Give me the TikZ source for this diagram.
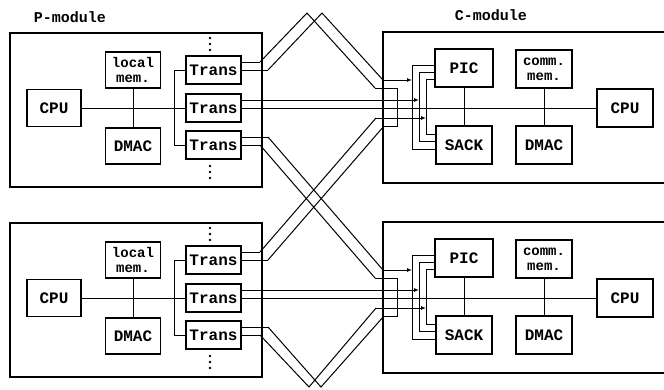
\documentclass[tikz,border=0pt]{standalone}
\usepackage{fontspec}
\setmainfont{Liberation Mono}
\usepackage{tikz}
\usetikzlibrary{arrows.meta}

\begin{document}
\begin{tikzpicture}[x=1pt, y=-1pt, line width=1pt, every node/.style={font=\fontsize{16}{16}\selectfont\bfseries}, box/.style={draw, line width=1.2pt, minimum width=55pt, minimum height=36pt, inner sep=1pt, align=center}, trans/.style={box, minimum height=28pt}, twoline/.style={box, font=\fontsize{14}{15}\selectfont\bfseries}, title/.style={font=\fontsize{15}{15}\selectfont\bfseries}, arr/.style={-{Latex[length=5pt,width=4pt]}}]
\useasboundingbox (0,0) rectangle (664,389);
\node[title] (plabel) at (70,17) {P-module};
\node[title] (clabel) at (491,15) {C-module};
\foreach \h/\dy in {a/0,b/190} {
\begin{scope}[shift={(0,\dy)}]
\node[draw, line width=1.2pt, minimum width=252pt, minimum height=154pt] (pmod\h) at (136,110) {};
\draw[line width=1.2pt] (664,32) -| (383,183) -- (664,183);
\node[box, minimum width=54pt, minimum height=37pt] (pcpu\h) at (54,108) {CPU};
\node[twoline] (lmem\h) at (133,70) {local\\mem.};
\node[box] (pdmac\h) at (133,146) {DMAC};
\node[trans] (tra\h) at (213.5,70) {Trans};
\node[trans] (trb\h) at (213.5,108) {Trans};
\node[trans] (trc\h) at (213.5,145) {Trans};
\foreach \dd in {38,44,50,166,172,178}
  \fill (210,\dd) circle (1.3pt);
\node[box, minimum width=58pt, minimum height=38pt] (pic\h) at (464,68) {PIC};
\node[box, minimum width=56pt, minimum height=38pt] (sack\h) at (464,145) {SACK};
\node[twoline, minimum width=56pt, minimum height=38pt] (cmem\h) at (544,69) {comm.\\mem.};
\node[box, minimum width=56pt, minimum height=38pt] (cdmac\h) at (544,145) {DMAC};
\node[box, minimum width=56pt, minimum height=38pt] (ccpu\h) at (625,108) {CPU};
\coordinate (t1u\h) at (260,62);
\coordinate (t1l\h) at (268,70);
\coordinate (t3u\h) at (268,137);
\coordinate (t3l\h) at (260,145);
\coordinate (du\h) at (383,80);
\coordinate (dl\h) at (375,88);
\coordinate (bu\h) at (376,118);
\coordinate (bl\h) at (384,126);
\coordinate (lp\h) at (397,88);
\coordinate (h1\h) at (412,80);
\coordinate (h2\h) at (419,100);
\coordinate (h3\h) at (426,118);
\draw (lmem\h) -- (pdmac\h);
\draw (pcpu\h) -- (trb\h);
\draw (tra\h.west) -- ++(-11,0) |- (trc\h.west);
\draw ([yshift=8pt]tra\h.east) -- (t1u\h);
\draw (tra\h.east) -- (t1l\h);
\draw ([yshift=8pt]trc\h.east) -- (t3u\h);
\draw (trc\h.east) -- (t3l\h);
\draw (trb\h.east) -- (ccpu\h.west);
\draw[arr] ([yshift=8pt]trb\h.east) -- (h2\h);
\draw[arr] (du\h) -- (h1\h);
\draw[arr] (bu\h) -- (h3\h);
\draw (dl\h) -- (lp\h) |- (bl\h);
\foreach \bx/\bt/\bb in {412/65/149,419/72/141,426/79/134}
  \draw (pic\h.west |- 0,\bt) -| (\bx,\bb) -- (sack\h.west |- 0,\bb);
\draw (pic\h) -- (sack\h);
\draw (cmem\h) -- (cdmac\h);
\end{scope}
}
\coordinate (pk1) at (307,13);
\coordinate (pk2) at (322,13);
\coordinate (pk3) at (309,387);
\coordinate (pk4) at (321,387);
\draw (t1ua) -- (pk1) -- (dla);
\draw (t1la) -- (pk2) -- (dua);
\draw (t3ua) -- (dub);
\draw (t3la) -- (dlb);
\draw (t1ub) -- (bua);
\draw (t1lb) -- (bla);
\draw (t3lb) -- (pk3) -- (bub);
\draw (t3ub) -- (pk4) -- (blb);
\end{tikzpicture}
\end{document}
